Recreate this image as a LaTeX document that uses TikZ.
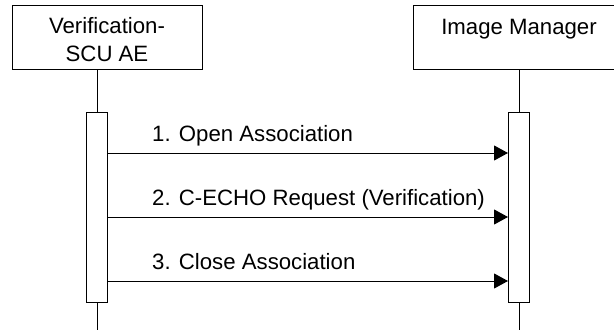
\documentclass[tikz,border=0pt]{standalone}
\usepackage{fontspec}
\setmainfont{Liberation Sans}
\usetikzlibrary{arrows.meta}
\begin{document}
\begin{tikzpicture}[x=1pt,y=-1pt,
  actor/.style={draw=black,line width=1pt,fill=white,inner sep=0pt},
  life/.style={draw=black,line width=1pt},
  activ/.style={draw=black,line width=1pt,fill=white},
  msg/.style={draw=black,line width=1pt,-{Triangle[length=14pt,width=15pt]}},
  lbl/.style={anchor=west,inner sep=0pt,font=\fontsize{22.2}{27}\selectfont}]
\useasboundingbox (0,0) rectangle (614,330);
% lifelines
\coordinate (l1top) at (97,69);
\coordinate (l1bot) at (97,330);
\coordinate (l2top) at (519,69);
\coordinate (l2bot) at (519,330);
\draw[life] (l1top) -- (l1bot);
\draw[life] (l2top) -- (l2bot);
% actor boxes
\draw[actor] (12.5,5.5) rectangle (202,69);
\node[align=center,font=\fontsize{22.2}{28}\selectfont,inner sep=0pt] (a1) at (107,40) {Verification-\\SCU AE};
\draw[actor] (413,5.5) rectangle (630,69);
\node[font=\fontsize{22.2}{27}\selectfont,inner sep=0pt,anchor=base] (a2) at (519,34) {Image Manager};
% activations
\node[activ,minimum width=21pt,minimum height=190pt,inner sep=0pt] (act1) at (96.5,207) {};
\node[activ,minimum width=21pt,minimum height=190pt,inner sep=0pt] (act2) at (519,207) {};
% messages
\coordinate (s1) at (act1.east |- 0,153);
\coordinate (e1) at (act2.west |- 0,153);
\coordinate (s2) at (act1.east |- 0,217);
\coordinate (e2) at (act2.west |- 0,217);
\coordinate (s3) at (act1.east |- 0,281);
\coordinate (e3) at (act2.west |- 0,281);
\draw[msg] (s1) -- (e1);
\draw[msg] (s2) -- (e2);
\draw[msg] (s3) -- (e3);
\node[lbl,anchor=base west] (m1) at (152,141) {1. Open Association};
\node[lbl,anchor=base west] (m2) at (152,205) {2. C-ECHO Request (Verification)};
\node[lbl,anchor=base west] (m3) at (152,269) {3. Close Association};
\end{tikzpicture}
\end{document}
